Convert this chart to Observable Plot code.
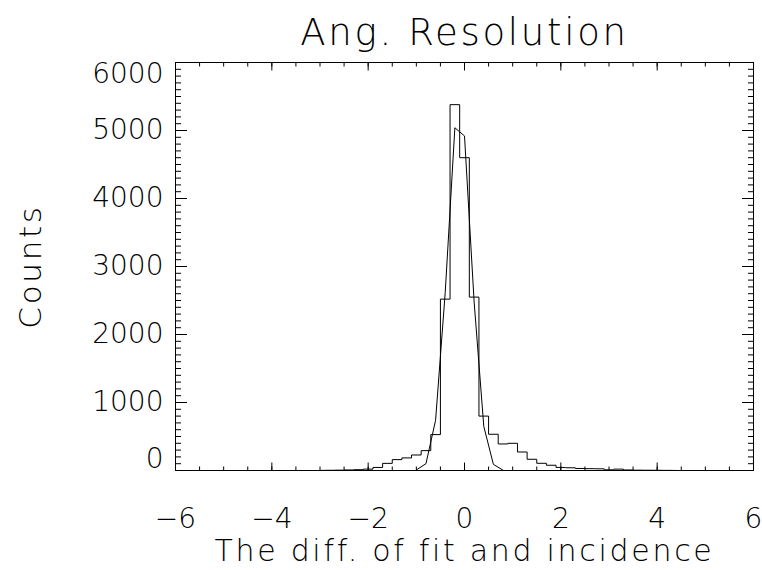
<!DOCTYPE html>
<html><head><meta charset="utf-8">
<script src="https://cdn.jsdelivr.net/npm/d3@7"></script>
<script src="https://cdn.jsdelivr.net/npm/@observablehq/plot@0.6"></script>
<style>
body{margin:0;background:#fff}
g[aria-label="text"] text{letter-spacing:2.7px}
</style>
</head><body><div id="chart"></div>
<script>
// Histogram (bin centers, width 0.2)
const binCenters = [-3.0,-2.8,-2.6,-2.4,-2.2,-2.0,-1.8,-1.6,-1.4,-1.2,-1.0,-0.8,-0.6,-0.4,-0.2,0.0,0.2,0.4,0.6,0.8,1.0,1.2,1.4,1.6,1.8,2.0,2.2,2.4,2.6,2.8,3.0,3.2,3.4,3.6,3.8,4.0,4.2,4.4];
const binCounts  = [2,3,5,8,12,20,45,105,160,185,228,292,528,2520,5380,4600,2550,800,533,390,400,272,165,106,77,45,40,30,27,25,10,20,8,5,4,3,2,1];
// Gaussian fit curve evaluated at bin centers
const fitX      = [-1.0,-0.8,-0.6,-0.4,-0.2,0.0,0.2,0.4,0.6,0.8];
const fitCounts = [8,100,740,2620,5040,4920,2480,650,90,5];
// Axis ticks
const xTickValues = [-6,-4,-2,0,2,4,6];
const yTickValues = [0,1000,2000,3000,4000,5000,6000];
const title = "Ang. Resolution";
const xLabel = "The diff. of fit and incidence";
const yLabel = "Counts";

const hist = binCenters.map((x, i) => ({x, y: binCounts[i]}));
const fit = fitX.map((x, i) => ({x, y: fitCounts[i]}));
const xMinor = d3.range(-6, 6.001, 0.5);
const yMinor = d3.range(0, 6001, 100);
const blank = () => "";
const mid = yTickValues.filter(v => v !== 0 && v !== 6000);

const chart = Plot.plot({
  width: 762, height: 570,
  marginLeft: 175, marginRight: 9, marginTop: 62, marginBottom: 100,
  style: {fontFamily: "DejaVu Sans", fontWeight: 200, background: "#fff", color: "#000"},
  x: {domain: [-6, 6]},
  y: {domain: [0, 6000]},
  marks: [
    Plot.frame({stroke: "#000"}),
    // inward minor/major ticks on all four sides
    Plot.axisX(xMinor, {anchor: "bottom", tickSize: 3.5, dy: -3.5, tickFormat: blank, label: null}),
    Plot.axisX(xTickValues, {anchor: "bottom", tickSize: 7.5, dy: -7.5, tickFormat: blank, label: null}),
    Plot.axisX(xMinor, {anchor: "top", tickSize: 3.5, dy: 3.5, tickFormat: blank, label: null}),
    Plot.axisX(xTickValues, {anchor: "top", tickSize: 7.5, dy: 7.5, tickFormat: blank, label: null}),
    Plot.axisY(yMinor, {anchor: "left", tickSize: 6, dx: 6, tickFormat: blank, label: null}),
    Plot.axisY(yTickValues, {anchor: "left", tickSize: 12, dx: 12, tickFormat: blank, label: null}),
    Plot.axisY(yMinor, {anchor: "right", tickSize: 6, dx: -6, tickFormat: blank, label: null}),
    Plot.axisY(yTickValues, {anchor: "right", tickSize: 12, dx: -12, tickFormat: blank, label: null}),
    // tick labels
    Plot.axisX(xTickValues, {anchor: "bottom", tickSize: 0, tickPadding: 38, fontSize: 28, tickFormat: "d", label: null}),
    Plot.axisY(mid, {anchor: "left", tickSize: 0, tickPadding: 12, fontSize: 28, tickFormat: "d", label: null}),
    Plot.axisY([6000], {anchor: "left", tickSize: 0, tickPadding: 12, dy: 12, fontSize: 28, tickFormat: "d", label: null}),
    Plot.axisY([0], {anchor: "left", tickSize: 0, tickPadding: 12, dy: -11, fontSize: 28, tickFormat: "d", label: null}),
    // data
    Plot.line(hist, {x: "x", y: "y", curve: "step", stroke: "#000", strokeWidth: 1}),
    Plot.line(fit, {x: "x", y: "y", stroke: "#000", strokeWidth: 1}),
    // titles
    Plot.text([title], {text: d => d, frameAnchor: "top", dy: -29, lineAnchor: "middle", textAnchor: "middle", fontSize: 37}),
    Plot.text([xLabel], {text: d => d, frameAnchor: "bottom", dy: 69, lineAnchor: "top", textAnchor: "middle", fontSize: 30}),
    Plot.text([yLabel], {text: d => d, frameAnchor: "left", dx: -144, rotate: -90, lineAnchor: "middle", textAnchor: "middle", fontSize: 31})
  ]
});
document.getElementById("chart").appendChild(chart);
</script>
</body></html>
